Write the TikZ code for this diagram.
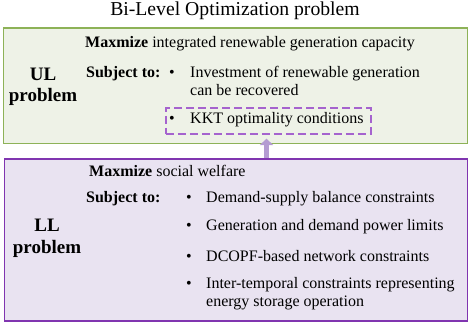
\documentclass[tikz,border=0pt]{standalone}
\usepackage{fontspec}
\setmainfont{Liberation Serif}
\usetikzlibrary{arrows.meta}
\definecolor{ulborder}{HTML}{8DB257}
\definecolor{ulfill}{HTML}{EEF2E7}
\definecolor{llborder}{HTML}{8035B0}
\definecolor{llfill}{HTML}{E9E3F1}
\definecolor{dashcol}{HTML}{A563CE}
\definecolor{arrcol}{HTML}{B49CD2}
\tikzset{
  txt/.style={anchor=base west, inner sep=0pt, font=\fontsize{16}{18}\selectfont},
  lbl/.style={anchor=base, inner sep=0pt, font=\fontsize{19}{21}\selectfont\bfseries},
  bul/.style={anchor=base, inner sep=0pt, font=\fontsize{16}{18}\selectfont},
}
\begin{document}
\begin{tikzpicture}[x=1pt,y=-1pt]
\useasboundingbox (0,0) rectangle (470,323);
% title
\node[anchor=base, inner sep=0pt, font=\fontsize{19.7}{22}\selectfont] (title) at (235,15.5) {Bi-Level Optimization problem};
% UL box
\node[draw=ulborder, fill=ulfill, line width=1.6pt, minimum width=464pt, minimum height=115pt, anchor=north west, inner sep=0pt] (ul) at (2.5,27.5) {};
% LL box
\node[draw=llborder, fill=llfill, line width=1.6pt, minimum width=463pt, minimum height=162pt, anchor=north west, inner sep=0pt] (ll) at (3.5,158) {};
% dashed box
\node[draw=dashcol, dash pattern=on 8pt off 4pt, line width=1.6pt, minimum width=205pt, minimum height=26pt, anchor=north west, inner sep=0pt] (kkt) at (165,107) {};
% arrow
\draw[arrcol, line width=5.5pt, -{Triangle[length=6.5pt,width=13pt]}] (ll.north -| 266.5,0) -- ([yshift=-4pt]kkt.south -| 266.5,0);
% UL text
\node[lbl] (ullbl1) at (43,81) {UL};
\node[lbl] (ullbl2) at (43,101.5) {problem};
\node[txt] (ulmax) at (85,47.5) {\textbf{Maxmize} integrated renewable generation capacity};
\node[txt] (ulsub) at (86,77.5) {\textbf{Subject to:}};
\node[bul] (ulb1) at (172,77.5) {\textbullet};
\node[txt] (ult1) at (190,77.5) {Investment of renewable generation};
\node[txt] (ult1b) at (190,96) {can be recovered};
\node[bul] (ulb2) at (172,124) {\textbullet};
\node[txt] (ult2) at (190,124) {KKT optimality conditions};
% LL text
\node[lbl] (lllbl1) at (47,231.5) {LL};
\node[lbl] (lllbl2) at (47,253) {problem};
\node[txt] (llmax) at (89,176.5) {\textbf{Maxmize} social welfare};
\node[txt] (llsub) at (86,202.5) {\textbf{Subject to:}};
\node[bul] (llb1) at (189,202.5) {\textbullet};
\node[txt] (llt1) at (206,202.5) {Demand-supply balance constraints};
\node[bul] (llb2) at (189,230.5) {\textbullet};
\node[txt] (llt2) at (206,230.5) {Generation and demand power limits};
\node[bul] (llb3) at (189,261.5) {\textbullet};
\node[txt] (llt3) at (206,261.5) {DCOPF-based network constraints};
\node[bul] (llb4) at (189,288.5) {\textbullet};
\node[txt] (llt4) at (206,288.5) {Inter-temporal constraints representing};
\node[txt] (llt4b) at (206,306.5) {energy storage operation};
\end{tikzpicture}
\end{document}
